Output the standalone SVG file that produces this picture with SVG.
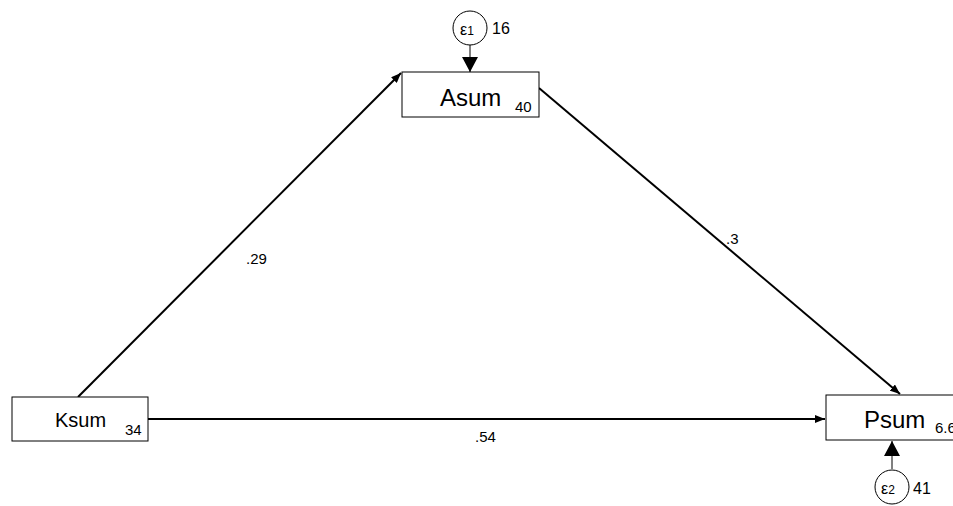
<svg xmlns="http://www.w3.org/2000/svg" width="953" height="506" viewBox="0 0 953 506">
<style>
.box{fill:#fff;stroke:#000;stroke-width:1}
.err{fill:#fff;stroke:#000;stroke-width:1}
.lbl{font-family:"Liberation Sans",Arial,sans-serif;fill:#000}
.big{font-size:24px}
.mid{font-size:20px}
.sm{font-size:15px}
.edge{stroke:#000;stroke-width:2;fill:none}
.thin{stroke:#000;stroke-width:1;fill:none}
</style>
<defs>
<marker id="ah" markerWidth="10" markerHeight="8" refX="10" refY="4" orient="auto" markerUnits="userSpaceOnUse">
<path d="M0,0 L10,4 L0,8 Z" fill="#000"/>
</marker>
<marker id="ahb" markerWidth="15" markerHeight="16" refX="15" refY="8" orient="auto" markerUnits="userSpaceOnUse">
<path d="M0,0 L15,8 L0,16 Z" fill="#000"/>
</marker>
</defs>
<rect width="953" height="506" fill="#fff"/>
<g id="connectors">
<line class="edge" x1="78" y1="397" x2="401" y2="73" marker-end="url(#ah)"/>
<line class="edge" x1="539" y1="88" x2="900" y2="394" marker-end="url(#ah)"/>
<line class="edge" x1="148" y1="419" x2="825" y2="419" marker-end="url(#ah)"/>
<line class="thin" x1="470" y1="45" x2="470" y2="72" marker-end="url(#ahb)"/>
<line class="thin" x1="892" y1="469" x2="892" y2="441" marker-end="url(#ahb)"/>
<text class="lbl sm" x="246" y="264">.29</text>
<text class="lbl sm" x="726" y="244">.3</text>
<text class="lbl sm" x="475" y="442">.54</text>
</g>
<g id="Asum">
<rect class="box" x="402" y="72" width="137" height="45"/>
<text class="lbl big" x="440" y="106">Asum</text>
<text class="lbl sm" x="515" y="112">40</text>
</g>
<g id="Ksum">
<rect class="box" x="12" y="397" width="136" height="44"/>
<text class="lbl mid" x="55" y="427">Ksum</text>
<text class="lbl sm" x="125" y="435">34</text>
</g>
<g id="Psum">
<rect class="box" x="826" y="395" width="140" height="45"/>
<text class="lbl big" x="864" y="428">Psum</text>
<text class="lbl sm" x="935" y="433">6.6</text>
</g>
<g id="e1">
<circle class="err" cx="470" cy="28" r="17"/>
<text class="lbl" font-size="16" x="460" y="35">ε<tspan font-size="12">1</tspan></text>
<text class="lbl" font-size="16" x="492" y="34">16</text>
</g>
<g id="e2">
<circle class="err" cx="892" cy="487" r="17"/>
<text class="lbl" font-size="16" x="881" y="494">ε<tspan font-size="12">2</tspan></text>
<text class="lbl" font-size="16" x="913" y="494">41</text>
</g>
</svg>
